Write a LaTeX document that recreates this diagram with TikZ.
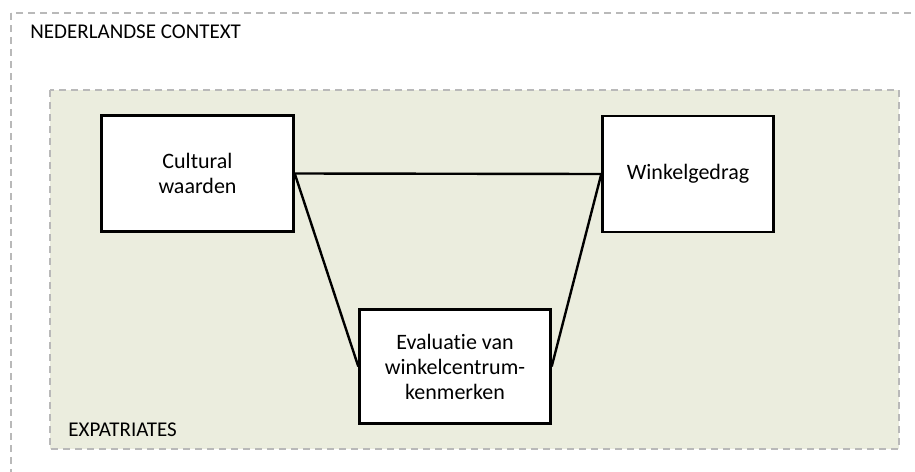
\documentclass[tikz,border=0pt]{standalone}
\usepackage{fontspec}
\setmainfont{Carlito}[Ligatures=NoCommon]
\usetikzlibrary{positioning, calc}
\definecolor{grijsje}{RGB}{185,185,185}
\definecolor{groentje}{RGB}{235,237,222}
\tikzset{
  kader/.style={draw=grijsje, dash pattern=on 3.5pt off 2.5pt, line width=0.8pt},
  blok/.style={draw, line width=1.2pt, fill=white, align=center, font=\fontsize{11}{12.5}\selectfont},
  etiket/.style={anchor=base west, inner sep=0pt, font=\fontsize{10.5}{12.5}\selectfont},
  verband/.style={line width=1.2pt}
}

\begin{document}
\begin{tikzpicture}[x=0.5pt, y=-0.5pt]
  \useasboundingbox (0,0) rectangle (915,471);
  \clip (0,0) rectangle (915,471);
  % contexts
  \draw[kader] (11,13) rectangle (940,500);
  \draw[kader, fill=groentje] (50,90) rectangle (899,449);
  \node[etiket] (context) at (30,39) {NEDERLANDSE CONTEXT};
  \node[etiket] (expats) at (68,436) {EXPATRIATES};
  % blocks
  \node[blok, minimum width=96pt, minimum height=58pt] (waarden) at (197.5,173.5) {Cultural\\waarden};
  \node[blok, minimum width=85.5pt, minimum height=58pt] (gedrag) at (688,174) {Winkelgedrag};
  \node[blok, minimum width=95.5pt, minimum height=57pt] (evaluatie) at (455,366.5) {Evaluatie van\\winkelcentrum-\\kenmerken};
  % links
  \draw[verband] (waarden.east) -- (gedrag.west);
  \draw[verband] (waarden.east) -- (evaluatie.west);
  \draw[verband] (gedrag.west) -- (evaluatie.east);
\end{tikzpicture}
\end{document}
